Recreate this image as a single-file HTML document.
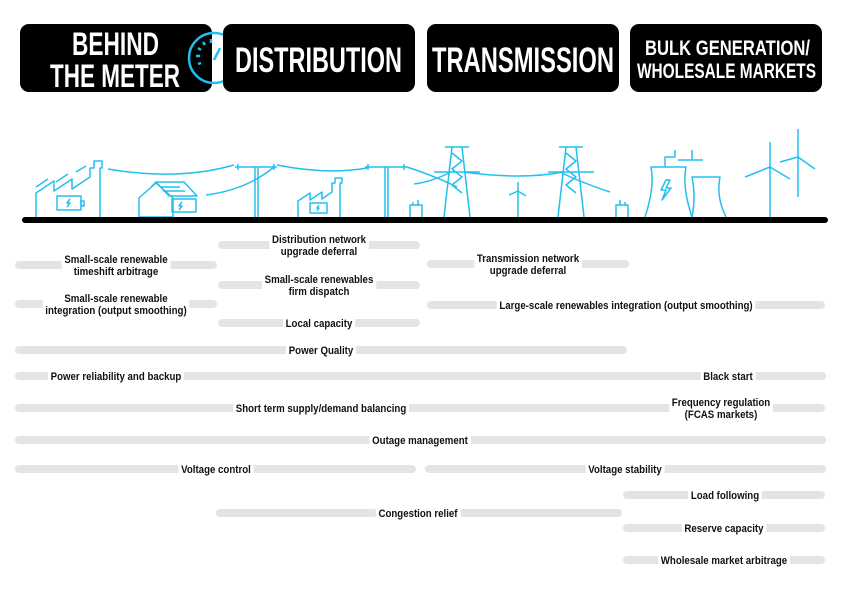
<!DOCTYPE html>
<html><head><meta charset="utf-8">
<style>
body{margin:0;background:#fff;width:841px;height:595px;overflow:hidden;font-family:"Liberation Sans",sans-serif}
svg{display:block}
.hd{font-family:"Liberation Sans",sans-serif;font-weight:bold;fill:#fff}
.lb{font-family:"Liberation Sans",sans-serif;font-weight:bold;font-size:11px;fill:#111}
.ic{fill:none;stroke:#22c0f0;stroke-width:1.5;stroke-linejoin:round}
</style></head><body>
<svg id="c" width="841" height="595" viewBox="0 0 841 595">
<g>
<rect x="20" y="24" width="192" height="68" rx="9" fill="#000"/>
<text class="hd" x="72" y="55" font-size="32" textLength="87" lengthAdjust="spacingAndGlyphs">BEHIND</text>
<text class="hd" x="50" y="87" font-size="32" textLength="130" lengthAdjust="spacingAndGlyphs">THE METER</text>
<g>
<circle cx="214" cy="58" r="25" fill="none" stroke="#1ec0f0" stroke-width="2.5"/>
<g stroke="#1ec0f0" stroke-width="2.5"><line x1="196" y1="56" x2="200" y2="56"/><line x1="198" y1="48" x2="201" y2="50"/><line x1="203" y1="42" x2="205" y2="45"/><line x1="211" y1="39" x2="211" y2="43"/><line x1="198" y1="64" x2="201" y2="63"/><line x1="214" y1="60" x2="220" y2="48"/></g>
</g>
<rect x="223" y="24" width="192" height="68" rx="9" fill="#000"/>
<text class="hd" x="235" y="72" font-size="35" textLength="167" lengthAdjust="spacingAndGlyphs">DISTRIBUTION</text>
<rect x="427" y="24" width="192" height="68" rx="9" fill="#000"/>
<text class="hd" x="432" y="72" font-size="35" textLength="182" lengthAdjust="spacingAndGlyphs">TRANSMISSION</text>
<rect x="630" y="24" width="192" height="68" rx="9" fill="#000"/>
<text class="hd" x="645" y="55" font-size="21" textLength="165" lengthAdjust="spacingAndGlyphs">BULK GENERATION/</text>
<text class="hd" x="637" y="78" font-size="21" textLength="179" lengthAdjust="spacingAndGlyphs">WHOLESALE MARKETS</text>
</g>
<g>
<g class="ic">
<path d="M36 217V193l18-12v10l18-12v10l18-12v-9h4v-7h8v7h-2V217"/>
<path d="M36 187l12-8M56 182l12-8M76 172l10-6"/>
<rect x="57" y="196" width="24" height="14"/><rect x="81" y="201" width="3" height="5"/>
<path d="M70 199l-3 4h3l-3 4"/>
<path d="M139 217V198l17-15 17 15v19H139z"/><path d="M151 187l5-5h28l13 14h-28l-13-14"/>
<rect x="172" y="199" width="24" height="13"/><path d="M182 202l-3 4h3l-3 4"/>
<path d="M160 187h20M163 191h22"/>
<path d="M298 217V201l12-8v7l12-8v7l10-7v-9h3v-5h7v5h-2v34"/>
<rect x="310" y="203" width="17" height="10"/><path d="M319 205l-2 3h2l-2 3"/>
<path d="M235 167h42M238 164v6M274 164v6M255 167v50M258 167v50"/>
<path d="M365 167h42M368 164v6M404 164v6M385 167v50M388 167v50"/>
<path d="M108 169q70 12 126 -4M277 165q50 10 90 3M206 195q40-5 68-28M407 167q30 10 50 20"/>
<path d="M410 217v-12h12v12M418 205v-5M413 205v-3"/>
<path d="M616 217v-12h12v12M620 205v-5M625 205v-3"/>
<path d="M444 217l8-70h10l8 70M445 147h24M434 172h46M452 153l10 8-10 8 10 8-10 8 10 8M451 172q-20 10-37 12M463 172q60 8 100 0M560 172q20 10 50 20"/>
<path d="M558 217l8-70h10l8 70M559 147h24M548 172h46M566 153l10 8-10 8 10 8-10 8 10 8"/>
<path d="M518 217v-26M518 191l-9 4M518 191l8 5M518 191l0-9"/>
<path d="M645 217q10-30 6-50h35q-4 20 6 50M692 217q4-20 0-40h28q-4 20 6 40"/>
<path d="M666 180l-5 10h5l-4 10 9-12h-5l4-8z"/>
<path d="M665 167v-10h10v-7M678 160h25M692 160v-10"/>
<path d="M770 217V167M770 167l-25 10M770 167l20 12M770 167l0-25"/>
<path d="M798 197V157M798 157l-18 5M798 157l17 12M798 157l0-28"/>
</g>
<rect x="22" y="217" width="806" height="6" rx="3" fill="#000"/>
</g>
<g id="bars"></g>
</svg>
<script>
var labels=["Small-scale renewable|timeshift arbitrage","Small-scale renewable|integration (output smoothing)","Distribution network|upgrade deferral","Small-scale renewables|firm dispatch","Local capacity","Transmission network|upgrade deferral","Large-scale renewables integration (output smoothing)","Power Quality","Power reliability and backup","Black start","Short term supply/demand balancing","Frequency regulation|(FCAS markets)","Outage management","Voltage control","Voltage stability","Load following","Congestion relief","Reserve capacity","Wholesale market arbitrage"];
var barStart=[15,15,218,218,218,427,427,15,15,null,15,null,15,15,425,623,216,623,623];
var barEnd=[217,217,420,420,420,629,825,627,826,null,825,null,826,416,826,825,622,825,825];
var rowY=[265,304,245,285,323,264,305,350,376,376,408,408,440,469,469,495,513,528,560];
var labelX=[116,116,319,319,319,528,626,321,116,728,321,721,420,216,625,725,418,724,724];
var g=document.getElementById('bars');
var NS='http://www.w3.org/2000/svg';
var SX=0.88;
for(var i=0;i<labels.length;i++){
  if(barStart[i]!==null){
    var r=document.createElementNS(NS,'rect');
    r.setAttribute('x',barStart[i]);r.setAttribute('y',rowY[i]-4);
    r.setAttribute('width',barEnd[i]-barStart[i]);r.setAttribute('height',8);
    r.setAttribute('rx',4);r.setAttribute('fill','#e4e4e4');
    
    
    g.appendChild(r);
  }
}
for(var i=0;i<labels.length;i++){
  var lines=labels[i].split('|');
  var tr='translate('+labelX[i]+',0) scale('+SX+',1) translate('+(-labelX[i])+',0)';
  var t=document.createElementNS(NS,'text');
  t.setAttribute('class','lb');t.setAttribute('text-anchor','middle');
  t.setAttribute('transform',tr);
  
  
  var y0=rowY[i]+4-(lines.length-1)*6;
  for(var k=0;k<lines.length;k++){
    var s=document.createElementNS(NS,'tspan');
    s.setAttribute('x',labelX[i]);s.setAttribute('y',y0+k*12);
    s.textContent=lines[k];t.appendChild(s);
  }
  g.appendChild(t);
  var b=t.getBBox();
  var bg=document.createElementNS(NS,'rect');
  bg.setAttribute('x',b.x-3);bg.setAttribute('y',b.y);bg.setAttribute('width',b.width+6);bg.setAttribute('height',b.height);
  bg.setAttribute('fill','#fff');
  bg.setAttribute('transform',tr);
  
  
  g.insertBefore(bg,t);
}
</script>
</body></html>
